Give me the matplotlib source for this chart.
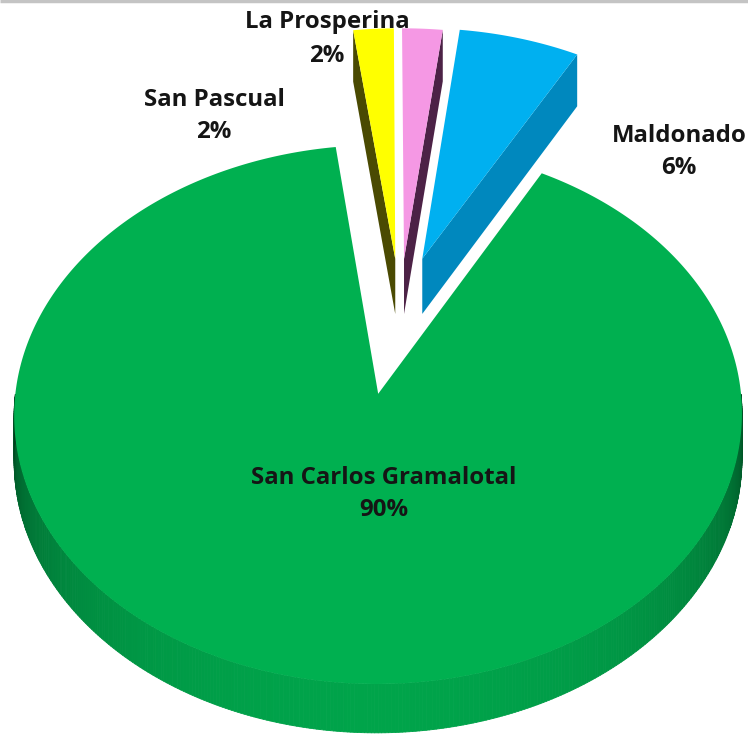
import numpy as np
import matplotlib
matplotlib.use("Agg")
import matplotlib.pyplot as plt
from matplotlib.collections import PolyCollection
from matplotlib.colors import to_rgb

# ---- data ----
categories = ["San Carlos Gramalotal", "San Pascual", "La Prosperina", "Maldonado"]
values = [90, 2, 2, 6]
colors = ["#00B050", "#FFFF00", "#F598E4", "#00B0F0"]
side_colors = ["#00A84C", "#4A4A02", "#4C2246", "#0088BE"]
explode = [0.33, 0.20, 0.20, 0.21]
depth = [44, 56, 56, 56]
start_angle = 28.5  # degrees clockwise from 12 o'clock where first slice starts

# label positions (pixel space)
label_pos = {"San Carlos Gramalotal": (384, 494), "San Pascual": (214, 116),
             "La Prosperina": (327, 39), "Maldonado": (679, 152)}

# ---- projection (pseudo 3D, perspective) ----
W, H = 748, 736
Cx, Cy, A, B, K = 400.0, 309.0, 354.0, 255.0, 0.075


def proj(X, Z, dz=0.0):
    d = 1 + K * Z
    return Cx + A * X / d, Cy - B * Z / d + dz / d


fig = plt.figure(figsize=(W / 100, H / 100), dpi=100)
ax = fig.add_axes([0, 0, 1, 1])
ax.set_xlim(0, W)
ax.set_ylim(H, 0)
ax.axis("off")

total = sum(values)
angles = []
a = start_angle
for v in values:
    span = 360.0 * v / total
    angles.append((a, a + span))
    a += span


def shade(c, f):
    r, g, b = to_rgb(c)
    return (r * f, g * f, b * f)


# draw exploded (back) slices first, main slice last
order = sorted(range(len(values)), key=lambda i: -np.cos(np.radians(sum(angles[i]) / 2)) * explode[i])
for i in order:
    t0, t1 = angles[i]
    mid = np.radians((t0 + t1) / 2)
    ox, oz = explode[i] * np.sin(mid), explode[i] * np.cos(mid)
    th = np.radians(np.linspace(t0, t1, max(int((t1 - t0) * 2), 4)))
    Xs, Zs = ox + np.sin(th), oz + np.cos(th)
    h = depth[i]

    # outer cylindrical side (front-facing part)
    polys, cols = [], []
    for j in range(len(th) - 1):
        c = -np.cos((th[j] + th[j + 1]) / 2)
        if c <= 0:
            continue
        p1 = proj(Xs[j], Zs[j]); p2 = proj(Xs[j + 1], Zs[j + 1])
        p3 = proj(Xs[j + 1], Zs[j + 1], h); p4 = proj(Xs[j], Zs[j], h)
        polys.append([p1, p2, p3, p4])
        cols.append(shade(colors[i], 0.28 + 0.65 * np.sqrt(c)))
    if polys:
        ax.add_collection(PolyCollection(polys, facecolors=cols, edgecolors=cols, linewidths=0.6))

    # radial faces
    ap = proj(ox, oz); apb = proj(ox, oz, h)
    if np.sin(np.radians(t0)) < -0.01:
        r1 = proj(Xs[0], Zs[0]); r2 = proj(Xs[0], Zs[0], h)
        ax.add_patch(plt.Polygon([ap, r1, r2, apb], closed=True, fc=side_colors[i], ec="none"))
    if np.sin(np.radians(t1)) > 0.01:
        r1 = proj(Xs[-1], Zs[-1]); r2 = proj(Xs[-1], Zs[-1], h)
        ax.add_patch(plt.Polygon([ap, r1, r2, apb], closed=True, fc=side_colors[i], ec="none"))

    # top face
    pts = [ap] + [proj(x, z) for x, z in zip(Xs, Zs)]
    ax.add_patch(plt.Polygon(pts, closed=True, fc=colors[i], ec="none"))

# labels
for cat, v in zip(categories, values):
    x, y = label_pos[cat]
    ax.text(x, y, f"{cat}\n{v / total * 100:.0f}%", ha="center", va="center",
            fontsize=17.3, fontweight="bold", family=["Open Sans", "DejaVu Sans"],
            color="#151515", linespacing=1.5)

# chart frame top border
ax.plot([0, W], [1, 1], color="#C4C4C4", lw=2.5, solid_capstyle="butt")

fig.savefig("out.png", dpi=100)
